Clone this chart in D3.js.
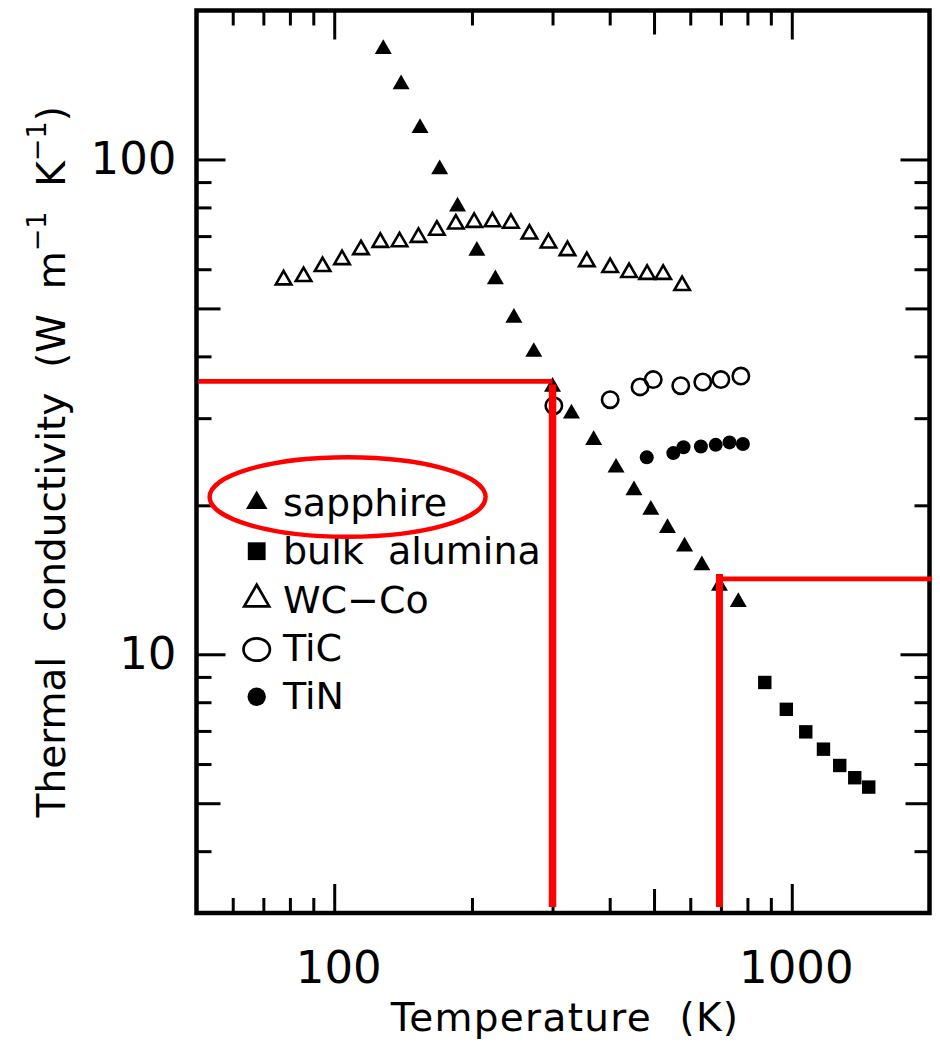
<!DOCTYPE html>
<html>
<head>
<meta charset="utf-8">
<script src="https://cdn.jsdelivr.net/npm/d3@7"></script>
<style>
  html, body { margin: 0; padding: 0; background: #fff; }
  svg { display: block; }
  text { font-family: 'DejaVu Sans', sans-serif; fill: #000; }
</style>
</head>
<body>
<div id="chart"></div>
<script>
// Thermal conductivity vs temperature

const sapphireT = [128, 140, 154, 170, 186, 205, 225, 247, 273, 300, 330, 369, 413, 452, 492, 535, 583, 636, 695, 764];
const sapphireK = [169, 143.5, 117, 96.6, 81.2, 66.1, 57.9, 48.4, 41.3, 35.1, 31.0, 27.4, 24.1, 21.7, 19.8, 18.2, 16.7, 15.3, 13.9, 12.9];

const aluminaT = [873, 973, 1073, 1173, 1273, 1373, 1473];
const aluminaK = [8.77, 7.74, 6.97, 6.43, 5.96, 5.63, 5.39];

const wcCoT = [77.5, 85.7, 94.3, 104, 114.4, 126.1, 138.9, 152.8, 167.6, 184.4, 202.2, 221.7, 243.3, 267.1, 293.9, 323.4, 356.5, 400.9, 441, 482.9, 523.5, 575.9];
const wcCoK = [57.7, 58.6, 61.4, 63.4, 66.4, 68.7, 68.9, 70.3, 72.7, 74.8, 75.4, 75.6, 75.1, 71.4, 68.5, 66.1, 62.8, 61.1, 59.7, 59.2, 59.2, 56.2];

const ticT = [302, 401, 466, 498, 572, 639, 700, 774];
const ticK = [31.8, 32.7, 34.7, 35.9, 34.9, 35.5, 35.9, 36.5];

const tinT = [482, 551, 580, 633, 682, 731, 782];
const tinK = [25.0, 25.5, 26.2, 26.3, 26.5, 26.8, 26.6];

const legendLabels = ['sapphire', 'bulk  alumina', 'WC\u2212Co', 'TiC', 'TiN'];

// axes
const xDomain = [50, 2000];
const yDomain = [3, 200];
const xMinorTicks = [60, 70, 80, 90, 200, 300, 400, 600, 700, 800, 900];
const xMidTicks = [500];
const xMajorTicks = [100, 1000];
const yMinorTicks = [4, 6, 7, 8, 9, 20, 30, 40, 60, 70, 80, 90];
const yMidTicks = [5, 50];
const yMajorTicks = [10, 100];

// red guide lines drawn over the plot (T in K, k in W/m/K)
const guideT = [300, 695];
const guideK = [35.6, 14.2];

const W = 940, H = 1043;
const svg = d3.select('#chart')
  .append('svg')
  .attr('width', W)
  .attr('height', H);

const x = d3.scaleLog().domain(xDomain).range([196.5, 929.5]);
const y = d3.scaleLog().domain(yDomain).range([913, 10.5]);

const plotLeft = x.range()[0], plotRight = x.range()[1];
const plotBottom = y.range()[0], plotTop = y.range()[1];

// inward ticks on all four sides
function tickSet(axis, values, len, transform) {
  svg.append('g')
    .attr('transform', transform)
    .call(axis.tickValues(values).tickSizeInner(-len).tickSizeOuter(0).tickFormat(''))
    .call(g => g.select('.domain').remove())
    .selectAll('line')
    .attr('stroke', '#000')
    .attr('stroke-width', 3);
}

[[xMinorTicks, 15], [xMidTicks, 24], [xMajorTicks, 29]].forEach(([vals, len]) => {
  tickSet(d3.axisBottom(x), vals, len, `translate(0,${plotBottom})`);
  tickSet(d3.axisTop(x), vals, len, `translate(0,${plotTop})`);
});
[[yMinorTicks, 15], [yMidTicks, 24], [yMajorTicks, 29]].forEach(([vals, len]) => {
  tickSet(d3.axisLeft(y), vals, len, `translate(${plotLeft},0)`);
  tickSet(d3.axisRight(y), vals, len, `translate(${plotRight},0)`);
});

// tick labels
svg.append('g')
  .attr('transform', `translate(0,${plotBottom})`)
  .call(d3.axisBottom(x).tickValues(xMajorTicks).tickSize(0).tickPadding(38).tickFormat(d3.format('d')))
  .call(g => g.select('.domain').remove())
  .selectAll('text')
  .attr('font-size', 45)
  .attr('dx', 4);

svg.append('g')
  .attr('transform', `translate(${plotLeft},0)`)
  .call(d3.axisLeft(y).tickValues(yMajorTicks).tickSize(0).tickPadding(20).tickFormat(d3.format('d')))
  .call(g => g.select('.domain').remove())
  .selectAll('text')
  .attr('font-size', 45);

// frame
svg.append('rect')
  .attr('x', plotLeft)
  .attr('y', plotTop)
  .attr('width', plotRight - plotLeft)
  .attr('height', plotBottom - plotTop)
  .attr('fill', 'none')
  .attr('stroke', '#000')
  .attr('stroke-width', 4.5);

// axis titles
svg.append('text')
  .attr('x', (plotLeft + plotRight) / 2 + 2)
  .attr('y', 1031)
  .attr('text-anchor', 'middle')
  .attr('font-size', 39)
  .attr('letter-spacing', 1.3)
  .style('white-space', 'pre')
  .text('Temperature  (K)');

const yTitle = svg.append('text')
  .attr('transform', `translate(65,${(plotTop + plotBottom) / 2}) rotate(-90)`)
  .attr('text-anchor', 'middle')
  .attr('font-size', 39)
  .style('white-space', 'pre');
yTitle.append('tspan').text('Thermal  conductivity  (W  m');
yTitle.append('tspan').attr('font-size', 27).attr('dy', -19).text('\u22121');
yTitle.append('tspan').attr('dy', 19).text('  K');
yTitle.append('tspan').attr('font-size', 27).attr('dy', -19).text('\u22121');
yTitle.append('tspan').attr('dy', 19).text(')');

// markers
const triPath = a => {
  const h = a * Math.sqrt(3) / 2;
  return `M0,${-h / 2}L${a / 2},${h / 2}L${-a / 2},${h / 2}Z`;
};
const pts = (T, K) => T.map((t, i) => ({ t, k: K[i] }));

svg.append('g').selectAll('path')
  .data(pts(wcCoT, wcCoK))
  .enter().append('path')
  .attr('transform', d => `translate(${x(d.t)},${y(d.k)})`)
  .attr('d', triPath(15.5))
  .attr('fill', '#fff')
  .attr('stroke', '#000')
  .attr('stroke-width', 2.6);

svg.append('g').selectAll('path')
  .data(pts(sapphireT, sapphireK))
  .enter().append('path')
  .attr('transform', d => `translate(${x(d.t)},${y(d.k)})`)
  .attr('d', triPath(17))
  .attr('fill', '#000');

svg.append('g').selectAll('circle')
  .data(pts(ticT, ticK))
  .enter().append('circle')
  .attr('cx', d => x(d.t))
  .attr('cy', d => y(d.k))
  .attr('r', 8.2)
  .attr('fill', 'none')
  .attr('stroke', '#000')
  .attr('stroke-width', 2.6);

svg.append('g').selectAll('circle')
  .data(pts(tinT, tinK))
  .enter().append('circle')
  .attr('cx', d => x(d.t))
  .attr('cy', d => y(d.k))
  .attr('r', 7)
  .attr('fill', '#000');

svg.append('g').selectAll('rect')
  .data(pts(aluminaT, aluminaK))
  .enter().append('rect')
  .attr('x', d => x(d.t) - 6.7)
  .attr('y', d => y(d.k) - 6.7)
  .attr('width', 13.4)
  .attr('height', 13.4)
  .attr('fill', '#000');

// legend
const legend = svg.append('g');
const legX = 256.7, textX = 283, base0 = 515.8, rowGap = 48.4;
legendLabels.forEach((label, i) => {
  const by = base0 + i * rowGap;
  legend.append('text')
    .attr('x', textX)
    .attr('y', by)
    .attr('font-size', 38)
    .style('white-space', 'pre')
    .text(label);
});
legend.append('path')
  .attr('transform', `translate(${legX},${base0 - 16})`)
  .attr('d', triPath(21.5))
  .attr('fill', '#000');
legend.append('rect')
  .attr('x', legX - 8.9)
  .attr('y', base0 + rowGap - 13 - 8.9)
  .attr('width', 17.8)
  .attr('height', 17.8)
  .attr('fill', '#000');
legend.append('path')
  .attr('transform', `translate(${legX},${base0 + 2 * rowGap - 17})`)
  .attr('d', triPath(25))
  .attr('fill', 'none')
  .attr('stroke', '#000')
  .attr('stroke-width', 2.7);
legend.append('ellipse')
  .attr('cx', legX)
  .attr('cy', base0 + 3 * rowGap - 11.5)
  .attr('rx', 13.2)
  .attr('ry', 11.2)
  .attr('fill', 'none')
  .attr('stroke', '#000')
  .attr('stroke-width', 2.7);
legend.append('circle')
  .attr('cx', legX)
  .attr('cy', base0 + 4 * rowGap - 12.6)
  .attr('r', 9.2)
  .attr('fill', '#000');

// red annotations
const red = svg.append('g').attr('stroke', '#ff0000').attr('fill', 'none');
red.append('line')
  .attr('x1', plotLeft + 2).attr('x2', x(guideT[0]))
  .attr('y1', y(guideK[0])).attr('y2', y(guideK[0]))
  .attr('stroke-width', 4.8);
red.append('line')
  .attr('x1', x(guideT[0])).attr('x2', x(guideT[0]))
  .attr('y1', y(guideK[0]) + 3).attr('y2', plotBottom - 6)
  .attr('stroke-width', 7.5);
red.append('line')
  .attr('x1', x(guideT[1])).attr('x2', x(guideT[1]))
  .attr('y1', y(guideK[1]) - 5).attr('y2', plotBottom - 6)
  .attr('stroke-width', 7);
red.append('line')
  .attr('x1', x(guideT[1])).attr('x2', plotRight + 2.5)
  .attr('y1', y(guideK[1])).attr('y2', y(guideK[1]))
  .attr('stroke-width', 4.8);
red.append('ellipse')
  .attr('cx', 347.6)
  .attr('cy', 497)
  .attr('rx', 138)
  .attr('ry', 39.8)
  .attr('stroke-width', 4.4);
</script>
</body>
</html>
